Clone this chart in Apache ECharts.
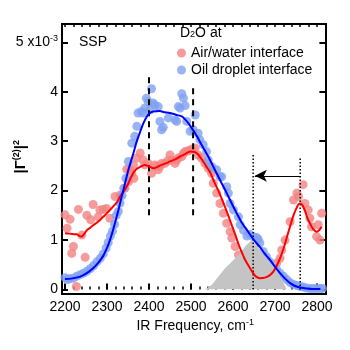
<!DOCTYPE html>
<html>
<head>
<meta charset="utf-8">
<script src="https://cdn.jsdelivr.net/npm/echarts@6/dist/echarts.min.js"></script>
<style>
  html, body { margin: 0; padding: 0; background: #fff; }
  #chart { width: 350px; height: 350px; }
</style>
</head>
<body>
<div id="chart"></div>
<script>
// SSP spectra of D2O: air/water vs oil droplet interface

// air/water interface (red) - measured points
const airX = [2200, 2205, 2212, 2216, 2220, 2227, 2232, 2240, 2248, 2252, 2261, 2267, 2279, 2283,
  2291, 2299, 2307, 2319, 2331, 2343, 2347, 2351, 2355, 2359, 2363, 2364, 2371, 2379, 2386,
  2390, 2398, 2406, 2414, 2418, 2422, 2426, 2430, 2438, 2444, 2450, 2454, 2462, 2466, 2470,
  2478, 2482, 2486, 2492, 2498, 2503, 2510, 2517, 2525, 2533, 2541, 2549, 2553, 2561, 2569,
  2577, 2585, 2593, 2597, 2605, 2613, 2621, 2625, 2636, 2648, 2660, 2676, 2692, 2704, 2712,
  2716, 2724, 2736, 2744, 2752, 2756, 2767, 2771, 2779, 2783, 2787, 2799, 2803, 2807, 2811];
const airY = [1.51, 1.24, 1.42, 0.73, 0.87, 0.06, 1.62, 1.10, 0.65, 1.50, 1.41, 1.72, 1.47, 1.61,
  1.62, 1.64, 1.44, 1.88, 1.91, 2.05, 2.43, 2.18, 2.42, 2.35, 2.52, 2.25, 2.66, 2.76, 2.62,
  2.52, 2.55, 2.35, 2.52, 2.49, 2.42, 2.49, 2.55, 2.55, 2.60, 2.72, 2.62, 2.55, 2.62, 2.66,
  2.69, 2.75, 2.79, 2.80, 2.82, 2.84, 2.86, 2.72, 2.66, 2.55, 2.45, 2.35, 2.15, 1.95, 1.74,
  1.54, 1.34, 1.17, 1.04, 0.87, 0.70, 0.53, 0.39, 0.29, 0.26, 0.25, 0.29, 0.39, 0.53, 0.63,
  0.80, 1.00, 1.37, 1.81, 1.95, 1.88, 2.12, 1.74, 1.61, 1.44, 1.27, 1.07, 1.31, 1.00, 1.54];

// oil droplet interface (blue) - measured points
const oilX = [2200, 2206, 2212, 2220, 2228, 2236, 2244, 2252, 2260, 2268, 2276, 2284, 2291, 2298,
  2303, 2308, 2313, 2318, 2322, 2327, 2331, 2336, 2340, 2345, 2351, 2359, 2366, 2371, 2374,
  2382, 2386, 2390, 2394, 2398, 2402, 2406, 2410, 2414, 2422, 2426, 2430, 2434, 2446, 2462,
  2466, 2470, 2474, 2478, 2482, 2486, 2490, 2498, 2505, 2510, 2517, 2521, 2529, 2537, 2541,
  2549, 2561, 2569, 2573, 2585, 2589, 2593, 2601, 2613, 2617, 2625, 2633, 2640, 2648, 2656,
  2660, 2664, 2672, 2680, 2688, 2696, 2704, 2712, 2720, 2728, 2736, 2744, 2752, 2760, 2767,
  2775, 2783, 2791, 2799, 2807, 2813];
const oilY = [0.24, 0.20, 0.22, 0.23, 0.27, 0.30, 0.33, 0.37, 0.42, 0.48, 0.56, 0.63, 0.72, 0.84,
  0.95, 1.08, 1.18, 1.32, 1.50, 1.58, 1.75, 1.90, 2.05, 2.25, 2.59, 2.96, 3.10, 3.30, 3.57,
  3.60, 3.57, 3.67, 3.87, 3.80, 3.63, 4.06, 3.77, 3.73, 3.70, 3.40, 3.23, 3.28, 3.47, 3.43,
  3.40, 3.70, 3.67, 3.96, 3.87, 3.72, 3.40, 3.20, 3.23, 3.53, 3.16, 3.03, 2.93, 2.79, 2.62,
  2.49, 2.42, 2.28, 2.28, 2.08, 1.95, 1.74, 1.61, 1.47, 1.31, 1.20, 1.08, 1.12, 1.07, 1.05,
  1.02, 0.94, 0.77, 0.66, 0.56, 0.43, 0.40, 0.33, 0.27, 0.20, 0.14, 0.10, 0.08, 0.06, 0.05,
  0.03, 0.02, 0.02, 0.02, 0.02, 0.02];

// fitted curves
const airFitX = [2200, 2210, 2220, 2228, 2235, 2240, 2247, 2252, 2260, 2267, 2280, 2291, 2303, 2315,
  2325, 2331, 2341, 2351, 2359, 2368, 2379, 2390, 2398, 2410, 2420, 2430, 2440, 2450, 2462,
  2474, 2486, 2498, 2508, 2516, 2529, 2537, 2545, 2553, 2565, 2575, 2585, 2595, 2605, 2613,
  2621, 2630, 2640, 2648, 2655, 2664, 2676, 2688, 2696, 2704, 2712, 2720, 2728, 2736, 2744,
  2752, 2758, 2764, 2771, 2777, 2783, 2791, 2799, 2805, 2811];
const airFitY = [1.14, 1.13, 1.12, 1.12, 1.08, 1.07, 1.14, 1.20, 1.25, 1.30, 1.38, 1.47, 1.57, 1.68,
  1.78, 1.88, 2.00, 2.15, 2.30, 2.42, 2.48, 2.52, 2.50, 2.45, 2.48, 2.52, 2.55, 2.59, 2.63,
  2.69, 2.74, 2.79, 2.78, 2.74, 2.59, 2.48, 2.38, 2.22, 2.00, 1.80, 1.58, 1.35, 1.12, 0.92,
  0.75, 0.58, 0.44, 0.33, 0.26, 0.23, 0.24, 0.29, 0.36, 0.48, 0.63, 0.82, 1.05, 1.28, 1.50,
  1.66, 1.74, 1.72, 1.60, 1.45, 1.34, 1.22, 1.17, 1.20, 1.27];

const oilFitX = [2200, 2215, 2236, 2250, 2267, 2280, 2291, 2300, 2307, 2315, 2323, 2329, 2335, 2343,
  2351, 2363, 2371, 2379, 2387, 2395, 2402, 2410, 2426, 2434, 2450, 2466, 2478, 2486, 2494,
  2502, 2510, 2518, 2525, 2533, 2541, 2551, 2561, 2573, 2585, 2597, 2609, 2621, 2636, 2650,
  2664, 2676, 2688, 2700, 2712, 2724, 2736, 2748, 2760, 2775, 2790, 2808];
const oilFitY = [0.21, 0.22, 0.26, 0.32, 0.43, 0.55, 0.68, 0.84, 1.00, 1.22, 1.47, 1.67, 1.88, 2.15,
  2.42, 2.76, 3.00, 3.19, 3.37, 3.50, 3.57, 3.60, 3.61, 3.59, 3.57, 3.53, 3.50, 3.44, 3.36,
  3.26, 3.16, 3.04, 2.93, 2.81, 2.69, 2.52, 2.35, 2.15, 1.95, 1.74, 1.54, 1.35, 1.17, 1.00,
  0.86, 0.72, 0.60, 0.46, 0.33, 0.22, 0.13, 0.07, 0.04, 0.02, 0.01, 0.01];

// grey shaded band
const bandX = [2533, 2550, 2565, 2581, 2597, 2613, 2630, 2644, 2660, 2676, 2690, 2704, 2716, 2728];
const bandY = [0, 0.10, 0.26, 0.43, 0.56, 0.70, 0.88, 1.00, 0.85, 0.66, 0.52, 0.39, 0.20, 0];

// marker lines
const dashedX = [2400, 2505];
const dashedTop = [4.31, 4.17];
const dashedBottom = 1.5;
const dottedX = [2648, 2760];
const dottedTop = [2.76, 2.69];
const arrowY = 2.3;

const FONT = 'Liberation Sans, Arial, sans-serif';
const RED_PT = '#f48282';
const BLUE_PT = '#80a1f2';

const pairs = (xs, ys) => xs.map((x, i) => [x, ys[i]]);

const chart = echarts.init(document.getElementById('chart'));

// vertical guide lines
const vLine = (x, y0, y1, type, width) => ({
  type: 'line',
  data: [[x, y0], [x, y1]],
  showSymbol: false,
  silent: true,
  lineStyle: { color: '#000', width: width, type: type }
});

const guides = [
  ...dashedX.map((x, i) => vLine(x, dashedBottom, dashedTop[i], [6, 5], 2)),
  ...dottedX.map((x, i) => vLine(x, 0, dottedTop[i], [1.5, 2], 1.5))
];
// arrow from the right dotted line to the left one
guides[guides.length - 1].markLine = {
  silent: true,
  symbol: ['none', 'arrow'],
  symbolSize: [9, 12],
  label: { show: false },
  lineStyle: { color: '#000', width: 1, type: 'solid' },
  data: [[{ coord: [dottedX[1], arrowY] }, { coord: [dottedX[0] + 4, arrowY] }]]
};

const sup = { fontSize: 9, fontFamily: FONT, color: '#000', padding: [0, 0, 8, 0] };
const supBold = { ...sup, fontWeight: 'bold' };

const option = {
  animation: false,
  textStyle: { fontFamily: FONT },
  title: [
    { text: 'SSP', left: 79, top: 35, padding: 0,
      textStyle: { fontSize: 14, fontWeight: 'normal', color: '#000', fontFamily: FONT } },
    { text: 'D{sub|2}O at', left: 180, top: 26, padding: 0,
      textStyle: { fontSize: 14, fontWeight: 'normal', color: '#000', fontFamily: FONT,
        rich: { sub: { fontSize: 9, fontFamily: FONT, color: '#000', padding: [4, 0, 0, 0] } } } }
  ],
  legend: {
    orient: 'vertical',
    left: 177,
    top: 46,
    itemWidth: 9,
    itemHeight: 9,
    itemGap: 3,
    padding: 0,
    data: [
      { name: 'Air/water interface', icon: 'circle' },
      { name: 'Oil droplet interface', icon: 'circle' }
    ],
    textStyle: { fontSize: 14, color: '#000', fontFamily: FONT, lineHeight: 14 }
  },
  grid: [
    // data area: x = 2200 .. 2820, y = 0 .. top
    { left: 65, right: 24.6, top: 24, bottom: 60.5, containLabel: false, outerBoundsMode: 'none' },
    // frame
    { left: 62, right: 24, top: 24, bottom: 56, show: true, containLabel: false, outerBoundsMode: 'none',
      borderColor: '#000', borderWidth: 2, backgroundColor: 'transparent' }
  ],
  xAxis: [
    {
      gridIndex: 0, type: 'value', position: 'bottom', offset: 4.5,
      min: 2200, max: 2820, interval: 100,
      axisLine: { show: false },
      axisTick: { inside: true, length: 6, lineStyle: { color: '#000', width: 2 } },
      splitLine: { show: false },
      axisLabel: { fontSize: 14, color: '#000', margin: 6, fontFamily: FONT,
        formatter: v => (v % 100 === 0 ? String(v) : '') },
      name: 'IR Frequency, cm{sup|-1}',
      nameLocation: 'middle',
      nameGap: 24,
      nameMoveOverlap: false,
      nameTextStyle: { fontSize: 14, color: '#000', fontFamily: FONT, rich: { sup: sup } }
    },
    {
      gridIndex: 0, type: 'value', position: 'bottom', offset: 4.5,
      min: 2200, max: 2820, interval: 20,
      axisLine: { show: false }, axisLabel: { show: false }, splitLine: { show: false },
      axisTick: { inside: true, length: 3, lineStyle: { color: '#000', width: 1.5 } }
    },
    {
      gridIndex: 0, type: 'value', position: 'top',
      min: 2200, max: 2820, interval: 20,
      axisLine: { show: false }, axisLabel: { show: false }, splitLine: { show: false },
      axisTick: { inside: true, length: 3, lineStyle: { color: '#000', width: 1.5 } }
    },
    { gridIndex: 1, type: 'value', show: false, min: 0, max: 1 }
  ],
  yAxis: [
    {
      gridIndex: 0, type: 'value', position: 'left', offset: 3,
      min: 0, max: 5.37, interval: 1,
      axisLine: { show: false },
      axisTick: { inside: true, length: 6, lineStyle: { color: '#000', width: 2 } },
      splitLine: { show: false },
      axisLabel: {
        fontSize: 14, color: '#000', margin: 4, fontFamily: FONT,
        formatter: v => (v === 5 ? '5 x10{sup|-3}' : (Number.isInteger(v) ? String(v) : '')),
        rich: { sup: sup }
      },
      name: '|Γ{sup|(2)}|{sup|2}',
      nameLocation: 'middle',
      nameRotate: 90,
      nameGap: 33,
      nameMoveOverlap: false,
      nameTextStyle: { fontSize: 15, fontWeight: 'bold', color: '#000', fontFamily: FONT,
        rich: { sup: supBold } }
    },
    {
      gridIndex: 0, type: 'value', position: 'right',
      min: 0, max: 5.37, interval: 1,
      axisLine: { show: false }, axisLabel: { show: false }, splitLine: { show: false },
      axisTick: { inside: true, length: 6, lineStyle: { color: '#000', width: 2 } }
    },
    { gridIndex: 1, type: 'value', show: false, min: 0, max: 1 }
  ],
  series: [
    {
      name: 'band', type: 'line', data: pairs(bandX, bandY),
      showSymbol: false, silent: true,
      lineStyle: { width: 0 },
      areaStyle: { color: '#c4c4c4', opacity: 1 }
    },
    {
      name: 'Air/water interface', type: 'scatter', data: pairs(airX, airY),
      symbolSize: 9, itemStyle: { color: RED_PT }
    },
    {
      name: 'Oil droplet interface', type: 'scatter', data: pairs(oilX, oilY),
      symbolSize: 9, itemStyle: { color: BLUE_PT }
    },
    ...guides,
    {
      name: 'air fit', type: 'line', data: pairs(airFitX, airFitY),
      showSymbol: false, smooth: 0.3,
      lineStyle: { color: '#ff0000', width: 2 }
    },
    {
      name: 'oil fit', type: 'line', data: pairs(oilFitX, oilFitY),
      showSymbol: false, smooth: 0.3,
      lineStyle: { color: '#0000ff', width: 2 }
    }
  ]
};

chart.setOption(option);
</script>
</body>
</html>
